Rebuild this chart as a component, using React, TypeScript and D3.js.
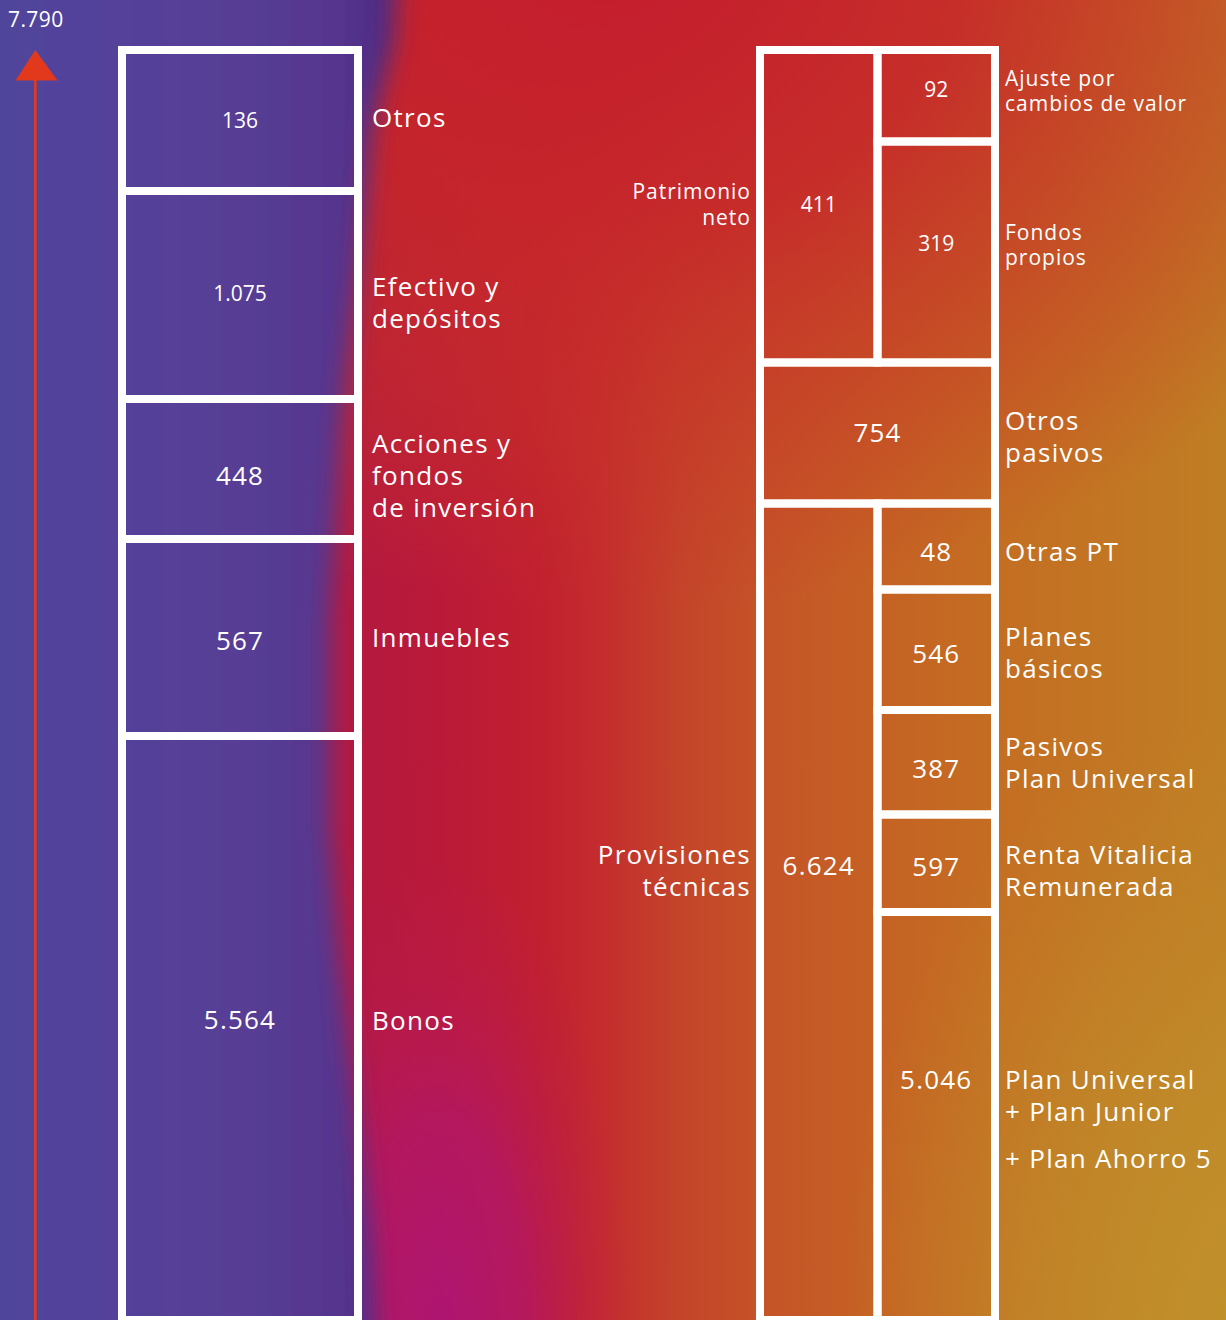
import React, { useEffect } from "react";
import * as d3 from "d3";

// ---------------- DATA ----------------
const totalLabel = "7.790";

// Activo (left bar), stacked from the bottom
const assetCategories = ["Bonos", "Inmuebles", "Acciones y\nfondos\nde inversión", "Efectivo y\ndepósitos", "Otros"];
const assetValues = [5564, 567, 448, 1075, 136];

// Pasivo (right bar) groups, stacked from the bottom
const liabilityGroups = ["Provisiones\ntécnicas", "Otros\npasivos", "Patrimonio\nneto"];
const liabilityGroupValues = [6624, 754, 411];

// Sub-items of the groups (group index tells which group they belong to)
const liabilityItems = [
  "Plan Universal\n+ Plan Junior\n+ Plan Ahorro 5",
  "Renta Vitalicia\nRemunerada",
  "Pasivos\nPlan Universal",
  "Planes\nbásicos",
  "Otras PT",
  "Fondos\npropios",
  "Ajuste por\ncambios de valor",
];
const liabilityItemValues = [5046, 597, 387, 546, 48, 319, 92];
const liabilityItemGroup = [0, 0, 0, 0, 0, 2, 2];

// ---------------- LAYOUT ----------------
const W = 1226;
const H = 1320;
const LEFT_X0 = 122;
const LEFT_X1 = 358;
const RIGHT_X0 = 760;
const RIGHT_X1 = 995;
const STROKE = 8;
// The infographic is not drawn to scale: piecewise breakpoints of the vertical scales
const LEFT_BREAKS_Y = [1320, 736, 539, 399, 191, 50];
const RIGHT_BREAKS_Y = [1320, 912, 814.5, 710, 589.5, 503.5, 362.5, 141.5, 50];

// small typographic nudges (px) relative to box centres
const LEFT_VALUE_DY = [-8, 3, 7, -2, 0];
const LEFT_LABEL_DY = [-7, 0, 7, 8, -3];
const ITEM_VALUE_DY = [3, 3, 6, 4, 5, -9, -6];
const ITEM_LABEL_DY = [3, 7, 0, 3, 5, -7, -5];
const GROUP_VALUE_DY = [2, 0, -2];
const GROUP_LABEL_DY = [7, 4, -2];

const FONT = "'Open Sans', 'Noto Sans', sans-serif";
const BIG = 26;
const SMALL = 21;
const LH_BIG = 32;
const LH_SMALL = 25.5;
const WEIGHT = 400;

const es = d3.formatLocale({ decimal: ",", thousands: ".", grouping: [3], currency: ["", "€"] });
const fmt = es.format(",d");

function Lines({ text, x, cy, size, anchor = "start", extraGapBefore = -1 }: any) {
  const lines = String(text).split("\n");
  const lh = size === BIG ? LH_BIG : LH_SMALL;
  const gaps = lines.map((_, i) => (i === extraGapBefore ? 15 : 0));
  const totalH = (lines.length - 1) * lh + d3.sum(gaps);
  const y0 = cy - totalH / 2;
  let acc = 0;
  return (
    <text
      x={x}
      fontFamily={FONT}
      fontSize={size}
      fontWeight={WEIGHT}
      fill="#fff"
      textAnchor={anchor}
      letterSpacing={size === BIG ? 1.3 : 1.0}
    >
      {lines.map((l, i) => {
        acc += i > 0 ? lh + gaps[i] : 0;
        return (
          <tspan key={i} x={x} y={y0 + acc + size * 0.36}>
            {l}
          </tspan>
        );
      })}
    </text>
  );
}

function Value({ v, x, cy, size }: any) {
  return (
    <text
      x={x}
      y={cy + size * 0.36}
      fontFamily={FONT}
      fontSize={size}
      fontWeight={WEIGHT}
      fill="#fff"
      textAnchor="middle"
      letterSpacing={size === BIG ? 1.2 : 0}
    >
      {fmt(v)}
    </text>
  );
}

export default function App() {
  useEffect(() => {
    document.body.style.margin = "0";
    document.body.style.overflow = "hidden";
  }, []);

  // ----- left scale -----
  const assetCum = [0, ...Array.from(d3.cumsum(assetValues))];
  const yLeft = d3.scaleLinear().domain(assetCum).range(LEFT_BREAKS_Y);
  const assetBoxes = assetValues.map((v, i) => ({
    label: assetCategories[i],
    value: v,
    y0: yLeft(assetCum[i + 1]),
    y1: yLeft(assetCum[i]),
  }));
  const assetTotal = assetCum[assetCum.length - 1];

  // ----- right scale -----
  const groupCum = [0, ...Array.from(d3.cumsum(liabilityGroupValues))];
  const withinGroup: number[] = liabilityGroupValues.map(() => 0);
  const items = liabilityItemValues.map((v, i) => {
    const g = liabilityItemGroup[i];
    const start = groupCum[g] + withinGroup[g];
    withinGroup[g] += v;
    return { label: liabilityItems[i], value: v, group: g, start, end: start + v };
  });
  const rightDomain = Array.from(
    new Set([...groupCum, ...items.map((d) => d.start), ...items.map((d) => d.end)])
  ).sort((a, b) => a - b);
  const yRight = d3.scaleLinear().domain(rightDomain).range(RIGHT_BREAKS_Y);
  const xCols = d3.scaleBand().domain(["group", "item"]).range([RIGHT_X0, RIGHT_X1]);

  const groups = liabilityGroupValues.map((v, g) => {
    const hasItems = liabilityItemGroup.includes(g);
    return {
      label: liabilityGroups[g],
      value: v,
      hasItems,
      y0: yRight(groupCum[g + 1]),
      y1: yRight(groupCum[g]),
      x0: RIGHT_X0,
      x1: hasItems ? (xCols("item") as number) : RIGHT_X1,
    };
  });
  const itemBoxes = items.map((d) => ({
    ...d,
    y0: yRight(d.end),
    y1: yRight(d.start),
    x0: xCols("item") as number,
    x1: RIGHT_X1,
  }));

  const smallGroup = 2; // Patrimonio neto drawn with smaller type
  const smallAssetValues = new Set([136, 1075]);

  const leftCx = (LEFT_X0 + LEFT_X1) / 2;
  const groupCx = (xCols("group") as number) + xCols.bandwidth() / 2;
  const itemCx = (xCols("item") as number) + xCols.bandwidth() / 2;

  // Provisiones técnicas label & value are aligned with its second item (Renta Vitalicia)
  const rentaBox = itemBoxes[1];
  const rentaCy = (rentaBox.y0 + rentaBox.y1) / 2;

  const arrowTop = yLeft(assetTotal);

  return (
    <div style={{ position: "absolute", left: 0, top: 0, width: W, height: H, overflow: "hidden" }}>
      <svg width={W} height={H} style={{ display: "block" }}>
        <defs>
          <linearGradient id="bgBase" gradientUnits="userSpaceOnUse" x1={360} y1={0} x2={1226} y2={0}>
            <stop offset={0} stopColor="#b4193f" />
            <stop offset={(450 - 360) / 866} stopColor="#bb1a38" />
            <stop offset={(540 - 360) / 866} stopColor="#c1202f" />
            <stop offset={(600 - 360) / 866} stopColor="#c42c2e" />
            <stop offset={(680 - 360) / 866} stopColor="#c4442a" />
            <stop offset={(760 - 360) / 866} stopColor="#c55328" />
            <stop offset={(880 - 360) / 866} stopColor="#c56224" />
            <stop offset={(1000 - 360) / 866} stopColor="#c46e22" />
            <stop offset={1} stopColor="#c07e24" />
          </linearGradient>
          <radialGradient id="topRed">
            <stop offset="0" stopColor="#c41c2e" stopOpacity={1} />
            <stop offset="0.4" stopColor="#c6262a" stopOpacity={0.88} />
            <stop offset="0.75" stopColor="#c73228" stopOpacity={0.42} />
            <stop offset="1" stopColor="#c73228" stopOpacity={0} />
          </radialGradient>
          <radialGradient id="gold">
            <stop offset="0" stopColor="#c0922c" stopOpacity={1} />
            <stop offset="0.5" stopColor="#c08c2a" stopOpacity={0.7} />
            <stop offset="1" stopColor="#c08528" stopOpacity={0} />
          </radialGradient>
          <radialGradient id="magenta">
            <stop offset="0" stopColor="#ae1572" stopOpacity={1} />
            <stop offset="0.45" stopColor="#b2176a" stopOpacity={0.75} />
            <stop offset="0.8" stopColor="#b81a55" stopOpacity={0.25} />
            <stop offset="1" stopColor="#b81a55" stopOpacity={0} />
          </radialGradient>
          <linearGradient id="purpleGrad" gradientUnits="userSpaceOnUse" x1={0} y1={0} x2={400} y2={0}>
            <stop offset="0" stopColor="#50459b" />
            <stop offset="0.3" stopColor="#54419a" />
            <stop offset="0.6" stopColor="#583e95" />
            <stop offset="0.85" stopColor="#55358e" />
            <stop offset="1" stopColor="#4a2780" />
          </linearGradient>
          <filter id="blurEdge" x="-20%" y="-20%" width="140%" height="140%">
            <feGaussianBlur stdDeviation="12" />
          </filter>
        </defs>

        {/* background */}
        <rect x={0} y={0} width={W} height={H} fill="url(#bgBase)" />
        <ellipse cx={1260} cy={1330} rx={420} ry={620} fill="url(#gold)" />
        <ellipse cx={620} cy={-50} rx={860} ry={660} fill="url(#topRed)" />
        <ellipse cx={440} cy={1330} rx={190} ry={470} fill="url(#magenta)" />
        <path
          d="M-60,-60 L398,-60 L394,40 L372,130 L360,260 L342,420 L330,620 L330,830 L340,960 L356,1100 L372,1250 L378,1400 L-60,1400 Z"
          fill="url(#purpleGrad)"
          filter="url(#blurEdge)"
        />

        {/* total label & arrow */}
        <text x={8} y={27} fontFamily={FONT} fontSize={SMALL} fontWeight={WEIGHT} fill="#fff" letterSpacing={0.4}>
          {totalLabel}
        </text>
        <line x1={35.3} x2={35.3} y1={arrowTop + 28} y2={H} stroke="#e2391c" strokeWidth={2.7} />
        <path d={`M35.3,${arrowTop} L57.5,${arrowTop + 30.5} L15.5,${arrowTop + 30.5} Z`} fill="#e2391c" />

        {/* left bar */}
        {assetBoxes.map((b, i) => (
          <rect
            key={"a" + i}
            x={LEFT_X0}
            y={b.y0}
            width={LEFT_X1 - LEFT_X0}
            height={b.y1 - b.y0}
            fill="none"
            stroke="#fff"
            strokeWidth={STROKE}
          />
        ))}
        {assetBoxes.map((b, i) => {
          const cy = (b.y0 + b.y1) / 2;
          return (
            <g key={"at" + i}>
              <Value
                v={b.value}
                x={leftCx}
                cy={cy + LEFT_VALUE_DY[i]}
                size={smallAssetValues.has(b.value) ? SMALL : BIG}
              />
              <Lines text={b.label} x={LEFT_X1 + 14} cy={cy + LEFT_LABEL_DY[i]} size={BIG} />
            </g>
          );
        })}

        {/* right bar: groups */}
        {groups.map((g, i) => (
          <rect
            key={"g" + i}
            x={g.x0}
            y={g.y0}
            width={g.x1 - g.x0}
            height={g.y1 - g.y0}
            fill="none"
            stroke="#fff"
            strokeWidth={STROKE}
          />
        ))}
        {itemBoxes.map((b, i) => (
          <rect
            key={"i" + i}
            x={b.x0}
            y={b.y0}
            width={b.x1 - b.x0}
            height={b.y1 - b.y0}
            fill="none"
            stroke="#fff"
            strokeWidth={STROKE}
          />
        ))}

        {groups.map((g, gi) => {
          const size = gi === smallGroup ? SMALL : BIG;
          const cy = gi === 0 ? rentaCy : (g.y0 + g.y1) / 2;
          return (
            <g key={"gt" + gi}>
              <Value
                v={g.value}
                x={g.hasItems ? groupCx : (RIGHT_X0 + RIGHT_X1) / 2}
                cy={cy + GROUP_VALUE_DY[gi]}
                size={size}
              />
              {g.hasItems ? (
                <Lines text={g.label} x={RIGHT_X0 - 9} cy={cy + GROUP_LABEL_DY[gi]} size={size} anchor="end" />
              ) : (
                <Lines text={g.label} x={RIGHT_X1 + 10} cy={cy + GROUP_LABEL_DY[gi]} size={size} />
              )}
            </g>
          );
        })}

        {itemBoxes.map((b, i) => {
          const size = b.group === smallGroup ? SMALL : BIG;
          const cy = (b.y0 + b.y1) / 2;
          const nLines = b.label.split("\n").length;
          const isLong = nLines > 2;
          const lh = size === BIG ? LH_BIG : LH_SMALL;
          const blockH = (nLines - 1) * lh + (isLong ? 15 : 0);
          const labelCy = cy + ITEM_LABEL_DY[i];
          // long labels: the value sits on the first line of the label
          const valueCy = isLong ? labelCy - blockH / 2 : cy + ITEM_VALUE_DY[i];
          return (
            <g key={"it" + i}>
              <Value v={b.value} x={itemCx} cy={valueCy} size={size} />
              <Lines
                text={b.label}
                x={RIGHT_X1 + 10}
                cy={labelCy}
                size={size}
                extraGapBefore={isLong ? 2 : -1}
              />
            </g>
          );
        })}
      </svg>
    </div>
  );
}
